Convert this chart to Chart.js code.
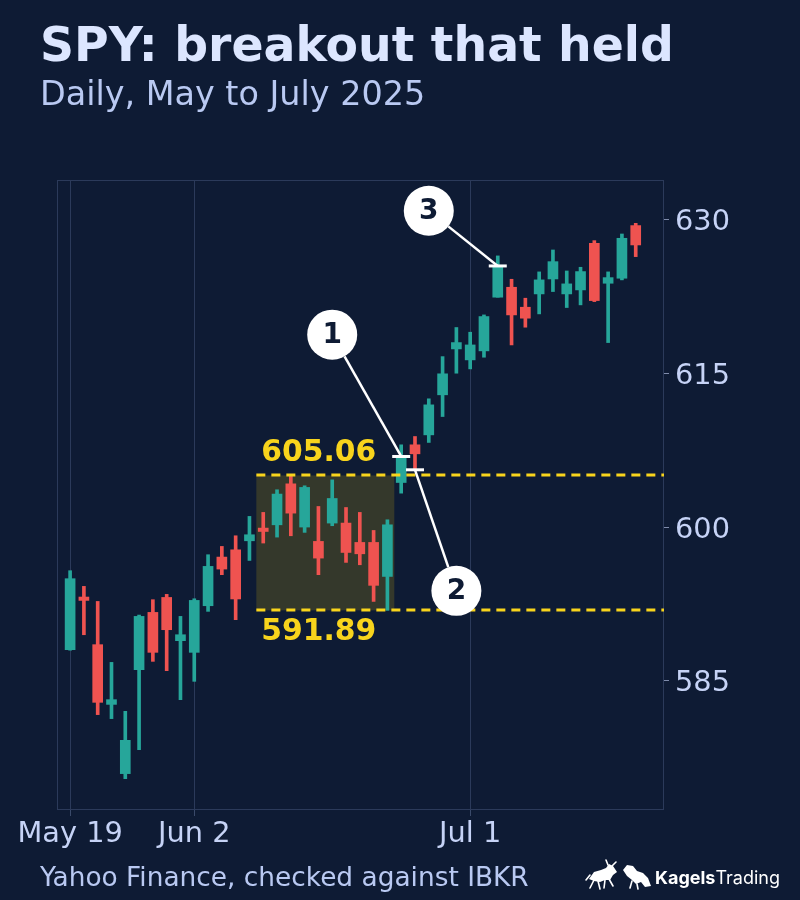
<!DOCTYPE html>
<html><head><meta charset="utf-8">
<script src="https://cdn.jsdelivr.net/npm/chart.js@4.4.1/dist/chart.umd.min.js"></script>
<style>html,body{margin:0;padding:0;background:#0e1b34;}canvas{display:block;}</style>
</head><body>
<canvas id="c" width="800" height="900"></canvas>
<script>
// ---- data ----
const dates = ['2025-05-19','2025-05-20','2025-05-21','2025-05-22','2025-05-23','2025-05-27','2025-05-28','2025-05-29','2025-05-30',
  '2025-06-02','2025-06-03','2025-06-04','2025-06-05','2025-06-06','2025-06-09','2025-06-10','2025-06-11','2025-06-12','2025-06-13',
  '2025-06-16','2025-06-17','2025-06-18','2025-06-20','2025-06-23','2025-06-24','2025-06-25','2025-06-26','2025-06-27','2025-06-30',
  '2025-07-01','2025-07-02','2025-07-03','2025-07-07','2025-07-08','2025-07-09','2025-07-10','2025-07-11','2025-07-14','2025-07-15',
  '2025-07-16','2025-07-17','2025-07-18'];
const opens  = [588.05,593.19,588.54,582.71,575.95,586.10,591.69,593.15,588.93,587.79,592.34,597.09,597.80,598.68,599.92,600.24,604.24,600.02,598.62,600.41,600.41,598.52,598.52,595.20,604.37,608.05,609.02,612.93,617.41,616.34,617.22,622.46,623.43,621.48,622.78,624.24,622.78,623.17,627.72,623.82,624.31,629.45];
const highs  = [595.76,594.23,592.76,586.81,582.03,591.43,592.93,593.45,591.30,593.02,597.32,598.13,599.17,601.06,601.45,603.66,605.06,604.05,602.03,604.63,601.93,601.45,599.69,600.73,608.05,608.86,612.54,616.66,619.50,619.04,620.73,626.49,624.21,622.36,624.93,627.07,625.02,625.38,627.98,624.93,628.63,629.67];
const lows   = [588.00,589.51,581.71,581.32,575.46,578.29,586.91,586.00,583.17,584.96,591.79,595.37,590.98,596.76,598.46,599.04,599.17,599.50,595.37,600.15,596.57,596.34,592.76,591.89,603.33,605.61,608.28,610.81,615.04,615.46,616.60,622.46,617.80,619.53,620.83,623.01,621.45,621.71,622.03,618.03,624.15,626.42];
const closes = [594.98,592.86,582.91,583.17,579.20,591.30,587.79,590.00,589.51,592.86,596.18,595.92,593.00,599.27,599.59,603.24,601.38,603.89,596.99,602.81,597.54,597.41,594.33,600.24,606.91,607.17,611.95,614.98,618.03,617.80,620.57,625.51,620.73,620.41,624.15,625.93,623.76,624.96,622.13,624.37,628.21,627.56];
const yTickValues = [585, 600, 615, 630];
const rangeFirstIdx = 14, rangeLastIdx = 23;
const rangeHigh = 605.06, rangeLow = 591.89;
const markerIdx   = [24, 25, 31];
const markerPrice = [606.91, 605.61, 625.51];
const markerText  = ['1', '2', '3'];
const calloutIdx   = [19, 28, 26];
const calloutPrice = [618.8, 593.8, 630.9];

// ---- styles ----
const BG = '#0e1b34', GRID = '#2b3a5a', UP = '#26a69a', DOWN = '#ef5350', GOLD = '#f8d41c';
const TICK_TXT = '#c6d3f6', FONT = '"DejaVu Sans", sans-serif';
const MONTHS = ['Jan','Feb','Mar','Apr','May','Jun','Jul','Aug','Sep','Oct','Nov','Dec'];
function fmtDate(s){ const p = s.split('-'); return MONTHS[+p[1]-1] + ' ' + (+p[2]); }
const monthStarts = dates.map((d,i)=> (i===0 || d.slice(0,7)!==dates[i-1].slice(0,7)) ? i : -1).filter(i=>i>=0);
const colorFor = i => closes[i] >= opens[i] ? UP : DOWN;

const bodies = dates.map((d,i)=>({x:i, y:[opens[i], closes[i]]}));
const wicks  = dates.map((d,i)=>({x:i, y:[lows[i], highs[i]]}));

function drawLogoIcons(ctx){
  ctx.save();
  ctx.fillStyle = '#ffffff'; ctx.strokeStyle = '#ffffff'; ctx.lineWidth = 1.6; ctx.lineCap = 'round';
  // bull (simplified silhouette)
  ctx.beginPath();
  ctx.moveTo(589,879); ctx.lineTo(594,872); ctx.lineTo(601,870); ctx.lineTo(606,868); ctx.lineTo(609,864);
  ctx.lineTo(613,866); ctx.lineTo(617,872); ctx.lineTo(613,875); ctx.lineTo(610,880); ctx.lineTo(605,880);
  ctx.lineTo(600,882); ctx.lineTo(594,881); ctx.closePath(); ctx.fill();
  ctx.beginPath();
  ctx.moveTo(594,880); ctx.lineTo(590,888); ctx.moveTo(598,881); ctx.lineTo(600,889);
  ctx.moveTo(605,880); ctx.lineTo(604,888); ctx.moveTo(609,879); ctx.lineTo(613,886);
  ctx.moveTo(608,865); ctx.lineTo(606,860); ctx.moveTo(612,866); ctx.lineTo(616,862);
  ctx.moveTo(590,875); ctx.lineTo(586,880);
  ctx.stroke();
  // bear (simplified silhouette)
  ctx.beginPath();
  ctx.moveTo(623,870); ctx.lineTo(627,865); ctx.lineTo(633,866); ctx.lineTo(637,871); ctx.lineTo(643,873);
  ctx.lineTo(648,878); ctx.lineTo(651,886); ctx.lineTo(645,887); ctx.lineTo(641,882); ctx.lineTo(636,884);
  ctx.lineTo(632,880); ctx.lineTo(627,876); ctx.closePath(); ctx.fill();
  ctx.beginPath();
  ctx.moveTo(632,881); ctx.lineTo(630,888); ctx.moveTo(637,884); ctx.lineTo(638,889);
  ctx.stroke();
  ctx.restore();
}

const overlay = {
  id: 'overlay',
  beforeDraw(chart){
    const ctx = chart.ctx; ctx.save(); ctx.fillStyle = BG; ctx.fillRect(0,0,chart.width,chart.height); ctx.restore();
  },
  beforeDatasetsDraw(chart){
    const {ctx, chartArea:a, scales:{x, y}} = chart;
    ctx.save();
    const x0 = x.getPixelForValue(rangeFirstIdx-0.5), x1 = x.getPixelForValue(rangeLastIdx+0.5);
    const y0 = y.getPixelForValue(rangeHigh), y1 = y.getPixelForValue(rangeLow);
    ctx.fillStyle = 'rgba(255,214,0,0.16)';
    ctx.fillRect(x0, y0, x1-x0, y1-y0);
    ctx.strokeStyle = GRID; ctx.lineWidth = 1;
    ctx.strokeRect(a.left+0.5, a.top+0.5, a.right-a.left-1, a.bottom-a.top-1);
    ctx.restore();
  },
  afterDatasetsDraw(chart){
    const {ctx, chartArea:a, scales:{x, y}} = chart;
    ctx.save();
    const x0 = x.getPixelForValue(rangeFirstIdx-0.5);
    ctx.strokeStyle = GOLD; ctx.lineWidth = 3; ctx.setLineDash([9,6]);
    [rangeHigh, rangeLow].forEach(v=>{
      const py = Math.round(y.getPixelForValue(v));
      ctx.beginPath(); ctx.moveTo(x0, py); ctx.lineTo(a.right, py); ctx.stroke();
    });
    ctx.setLineDash([]);
    ctx.fillStyle = GOLD; ctx.font = 'bold 29.8px ' + FONT; ctx.textAlign = 'left'; ctx.textBaseline = 'alphabetic';
    ctx.fillText(rangeHigh.toFixed(2), x0+5, y.getPixelForValue(rangeHigh)-14);
    ctx.fillText(rangeLow.toFixed(2), x0+5, y.getPixelForValue(rangeLow)+30);
    const R = 25;
    ctx.strokeStyle = '#ffffff'; ctx.lineWidth = 2.5;
    markerIdx.forEach((mi,k)=>{
      const px = x.getPixelForValue(mi), py = y.getPixelForValue(markerPrice[k]);
      const cx = x.getPixelForValue(calloutIdx[k]), cy = y.getPixelForValue(calloutPrice[k]);
      const dx = px-cx, dy = py-cy, L = Math.hypot(dx,dy);
      ctx.beginPath(); ctx.moveTo(cx+dx/L*R, cy+dy/L*R); ctx.lineTo(px, py); ctx.stroke();
    });
    ctx.fillStyle = '#ffffff';
    markerIdx.forEach((mi,k)=>{
      const px = x.getPixelForValue(mi), py = y.getPixelForValue(markerPrice[k]);
      ctx.fillRect(px-9, py-1.5, 18, 3);
    });
    markerIdx.forEach((mi,k)=>{
      const cx = x.getPixelForValue(calloutIdx[k]), cy = y.getPixelForValue(calloutPrice[k]);
      ctx.fillStyle = '#ffffff'; ctx.beginPath(); ctx.arc(cx, cy, R, 0, Math.PI*2); ctx.fill();
      ctx.fillStyle = BG; ctx.font = 'bold 28px ' + FONT; ctx.textAlign = 'center'; ctx.textBaseline = 'middle';
      ctx.fillText(markerText[k], cx, cy+1);
    });
    ctx.restore();
  },
  afterDraw(chart){
    const ctx = chart.ctx; ctx.save();
    ctx.textAlign = 'left'; ctx.textBaseline = 'alphabetic';
    ctx.fillStyle = '#dce6ff'; ctx.font = 'bold 47.3px ' + FONT; ctx.fillText('SPY: breakout that held', 40, 61);
    ctx.fillStyle = '#b9c9f2'; ctx.font = '33.4px ' + FONT; ctx.fillText('Daily, May to July 2025', 40, 105);
    ctx.fillStyle = '#b9c9f2'; ctx.font = '26.4px ' + FONT; ctx.fillText('Yahoo Finance, checked against IBKR', 40, 886);
    ctx.fillStyle = '#ffffff'; ctx.font = 'bold 18px Inter, sans-serif';
    ctx.fillText('Kagels', 655, 884);
    const w = ctx.measureText('Kagels').width;
    ctx.font = '18px Inter, sans-serif'; ctx.fillText('Trading', 655+w, 884);
    ctx.restore();
    drawLogoIcons(ctx);
  }
};

new Chart(document.getElementById('c'), {
  type: 'bar',
  data: { datasets: [
    { label: 'Body', data: bodies, backgroundColor: ctx => colorFor(ctx.dataIndex), barThickness: 10, grouped: false, borderWidth: 0, borderSkipped: false },
    { label: 'Wick', data: wicks,  backgroundColor: ctx => colorFor(ctx.dataIndex), barThickness: 3,  grouped: false, borderWidth: 0, borderSkipped: false }
  ]},
  options: {
    responsive: false, animation: false, devicePixelRatio: 1,
    layout: { padding: { left: 57, top: 180, right: 0, bottom: 40 } },
    plugins: { legend: { display: false }, tooltip: { enabled: false }, title: { display: false } },
    scales: {
      x: {
        type: 'linear', min: -0.95, max: 43.05, offset: false,
        afterBuildTicks: s => { s.ticks = monthStarts.map(v=>({value:v})); },
        afterFit: s => { s.height = 50; },
        ticks: { autoSkip: false, maxRotation: 0, padding: 1, color: TICK_TXT, font: { family: FONT, size: 28.8 },
                 callback: v => fmtDate(dates[v]) },
        grid: { offset: false, color: GRID, lineWidth: 1, drawOnChartArea: true, drawTicks: true, tickLength: 6, tickColor: '#3a4a6a' },
        border: { display: false }
      },
      y: {
        type: 'linear', position: 'right', min: 572.4, max: 633.9,
        afterBuildTicks: s => { s.ticks = yTickValues.map(v=>({value:v})); },
        afterFit: s => { s.width = 136; },
        ticks: { padding: 6, labelOffset: 3, color: TICK_TXT, font: { family: FONT, size: 28.8 }, callback: v => String(v) },
        grid: { offset: false, drawOnChartArea: false, drawTicks: true, tickLength: 5, tickColor: '#7f8cab' },
        border: { display: false }
      }
    }
  },
  plugins: [overlay]
});
</script>
</body></html>
